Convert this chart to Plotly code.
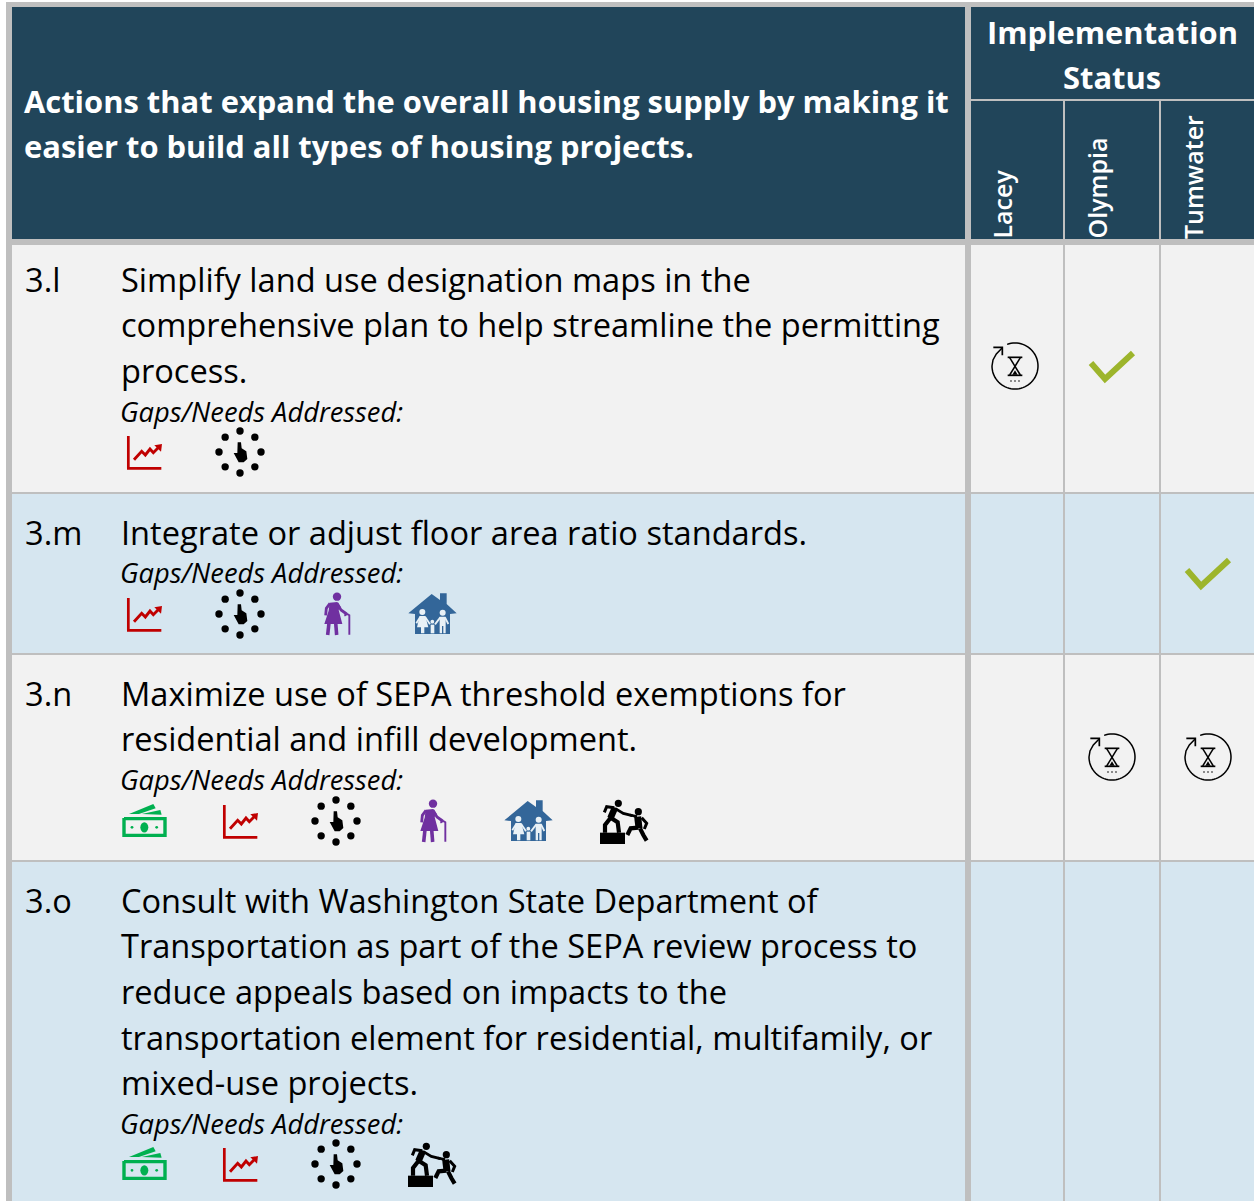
import math
import plotly.graph_objects as go

# ---------- content ----------
HEADER_TITLE = ["Actions that expand the overall housing supply by making it",
                "easier to build all types of housing projects."]
STATUS_TITLE = ["Implementation", "Status"]
CITIES = ["Lacey", "Olympia", "Tumwater"]
ACTION_IDS = ["3.l", "3.m", "3.n", "3.o"]
ACTION_LINES = [
    ["Simplify land use designation maps in the",
     "comprehensive plan to help streamline the permitting",
     "process."],
    ["Integrate or adjust floor area ratio standards."],
    ["Maximize use of SEPA threshold exemptions for",
     "residential and infill development."],
    ["Consult with Washington State Department of",
     "Transportation as part of the SEPA review process to",
     "reduce appeals based on impacts to the",
     "transportation element for residential, multifamily, or",
     "mixed-use projects."],
]
GAPS_LABEL = "Gaps/Needs Addressed:"
ACTION_GAPS = [
    ["chart", "dots"],
    ["chart", "dots", "elder", "family"],
    ["money", "chart", "dots", "elder", "family", "help"],
    ["money", "chart", "dots", "help"],
]
STATUS_LACEY = ["progress", None, None, None]
STATUS_OLYMPIA = ["done", None, "progress", None]
STATUS_TUMWATER = [None, "done", "progress", None]

# ---------- layout geometry ----------
W, H = 1254, 1201
NAVY, GREY = "#21455A", "#BFBFBF"
ROW_BG = ["#F2F2F2", "#D6E6F0", "#F2F2F2", "#D6E6F0"]
ROW_TOP = [245, 494, 655, 862]
ROW_BOTTOM = [492, 653, 860, 1201]
LINE_Y = [[279, 324, 370], [532], [693, 738], [900, 945, 991, 1037, 1082]]
GAPS_Y = [411, 572, 779, 1123]
ICON_Y = [453, 615, 822, 1165]
ICON_X0, ICON_STEP = 145, 96
CITY_X = [1015, 1112, 1208]
STATUS_Y = [366, 573, 757, 0]
FONT = "Open Sans"
BODY_SIZE = 32.6
HEAD_SIZE = 30.9
GAPS_SIZE = 27.3

shapes = []
annotations = []


def rect(x0, y0, x1, y1, color):
    shapes.append(dict(type="rect", xref="x", yref="y", x0=x0, y0=y0, x1=x1, y1=y1,
                       fillcolor=color, line=dict(width=0), layer="below"))


def text(x, y, s, size, color="#000000", anchor="left", weight=None, italic=False,
         angle=0, yanchor="middle"):
    annotations.append(dict(
        x=x, y=y, xref="x", yref="y", text=s, showarrow=False, xanchor=anchor,
        yanchor=yanchor, textangle=angle, borderpad=0,
        font=dict(family=FONT, size=size, color=color, weight=weight,
                  style="italic" if italic else "normal")))


def fill(pts, color):
    d = "M" + " L".join(f"{x:.2f},{y:.2f}" for x, y in pts) + " Z"
    shapes.append(dict(type="path", xref="x", yref="y", path=d,
                       fillcolor=color, line=dict(width=0)))


def stroke(pts, color, width):
    d = "M" + " L".join(f"{x:.2f},{y:.2f}" for x, y in pts)
    shapes.append(dict(type="path", xref="x", yref="y", path=d,
                       line=dict(color=color, width=width)))


def disc(x, y, rx, color, ry=None):
    ry = rx if ry is None else ry
    shapes.append(dict(type="circle", xref="x", yref="y", x0=x - rx, x1=x + rx,
                       y0=y - ry, y1=y + ry, fillcolor=color, line=dict(width=0)))


def mapper(cx, cy, ou, ov):
    def P(pts):
        return [(cx + (u - ou) / 3, cy + (v - ov) / 3) for u, v in pts]
    return P


def icon_money(cx, cy, bg):
    c = "#00B050"
    P = mapper(cx, cy, 90, 81)
    stroke(P([(27, 71), (150, 71), (150, 121), (27, 121), (27, 69)]), c, 3.4)
    fill(P([(42, 57), (115, 27), (122, 40), (72, 57)]), c)
    fill(P([(80, 57), (136, 45), (140, 59)]), c)
    (x, y), = P([(88, 97)])
    disc(x, y, 4, c, 5.2)
    for u in (51, 125):
        (x, y), = P([(u, 97)])
        disc(x, y, 1.4, c)


def icon_chart(cx, cy, bg):
    c = "#C00000"
    P = mapper(cx, cy, 135, 159)
    stroke(P([(85, 108), (85, 205), (184, 205)]), c, 2.7)
    stroke(P([(102, 179), (125, 154), (136, 165), (150, 147), (160, 158), (176, 142)]), c, 2.9)
    fill(P([(163, 136), (186, 132), (183, 155)]), c)


def icon_dots(cx, cy, bg):
    cx -= 1
    for k in range(8):
        a = k * math.pi / 4
        disc(cx + 21 * math.cos(a), cy - 1 + 21 * math.sin(a), 3.7, "#000000")
    P = mapper(cx, cy - 1, 421, 157)
    fill(P([(414, 128), (424, 128), (426, 146), (440, 155), (443, 178), (432, 188),
            (417, 188), (402, 160), (413, 160)]), "#000000")


def icon_elder(cx, cy, bg):
    c = "#7030A0"
    P = mapper(cx, cy, 66, 75)
    (x, y), = P([(66, 20)])
    disc(x, y, 4.2, c)
    fill(P([(44, 38), (67, 36), (77, 50), (71, 60), (82, 102), (28, 102), (41, 62)]), c)
    stroke(P([(42, 98), (38, 135)]), c, 3.6)
    stroke(P([(62, 98), (65, 135)]), c, 3.6)
    stroke(P([(45, 40), (34, 55), (32, 76)]), c, 2.8)
    stroke(P([(66, 40), (78, 60), (95, 72)]), c, 2.8)
    stroke(P([(88, 77), (97, 72), (103, 76), (103, 134)]), c, 1.9)


def icon_family(cx, cy, bg):
    c, w = "#336699", "#E9F1F6"
    P = mapper(cx, cy, 84, 75)
    fill(P([(80, 12), (105, 30), (105, 10), (125, 10), (125, 42), (155, 70), (135, 72),
            (135, 132), (30, 132), (30, 72), (10, 70)]), c)
    for u, v, r in ((52, 66, 3), (82, 95, 1.9), (113, 68, 3)):
        (x, y), = P([(u, v)])
        disc(x, y, r, w)
    fill(P([(44, 78), (61, 78), (70, 112), (58, 112), (58, 130), (48, 130), (48, 112), (36, 112)]), w)
    fill(P([(104, 80), (122, 80), (122, 130), (115, 130), (115, 108), (111, 108), (111, 130), (104, 130)]), w)
    fill(P([(77, 104), (88, 104), (88, 130), (77, 130)]), w)
    stroke(P([(46, 80), (34, 100)]), w, 1.8)
    stroke(P([(60, 80), (75, 103)]), w, 1.8)
    stroke(P([(106, 82), (90, 103)]), w, 1.8)
    stroke(P([(120, 82), (130, 102)]), w, 1.8)


def icon_help(cx, cy, bg):
    c = "#000000"
    P = mapper(cx, cy, 90, 81)
    fill(P([(15, 113), (90, 113), (90, 147), (15, 147)]), c)
    for u, v in ((70, 25), (130, 50)):
        (x, y), = P([(u, v)])
        disc(x, y, 3.6, c)
    stroke(P([(60, 38), (46, 70)]), c, 6.5)
    stroke(P([(58, 38), (35, 35), (28, 52)]), c, 3)
    stroke(P([(47, 68), (30, 90), (30, 113)]), c, 4.2)
    stroke(P([(47, 68), (68, 82), (72, 113)]), c, 4.2)
    stroke(P([(60, 40), (85, 55), (112, 62)]), c, 2.8)
    stroke(P([(128, 65), (132, 100)]), c, 7)
    stroke(P([(126, 65), (105, 60)]), c, 2.8)
    stroke(P([(140, 68), (155, 85), (148, 102)]), c, 3)
    stroke(P([(130, 98), (107, 100), (97, 120)]), c, 4.2)
    stroke(P([(135, 100), (145, 120), (155, 137)]), c, 4.2)


def icon_progress(cx, cy):
    c = "#000000"
    P = mapper(cx, cy, 90, 84)
    ring = [(90 + 69 * math.cos(math.radians(a)), 84 + 69 * math.sin(math.radians(a)))
            for a in range(-110, 185, 5)]
    stroke(P(ring), c, 1.5)
    stroke(P([(21, 84), (24, 66), (34, 48), (52, 29)]), c, 1.5)
    stroke(P([(25, 28), (52, 28), (52, 52)]), c, 1.7)
    stroke(P([(68, 58), (112, 58)]), c, 1.7)
    stroke(P([(68, 112), (112, 112)]), c, 1.7)
    stroke(P([(74, 59), (106, 111)]), c, 1.5)
    stroke(P([(106, 59), (74, 111)]), c, 1.5)
    fill(P([(82, 110), (98, 110), (90, 97)]), c)
    for u in (78, 90, 102):
        (x, y), = P([(u, 129)])
        disc(x, y, 0.8, c)


def icon_done(cx, cy):
    stroke([(cx - 21, cy - 3), (cx - 7, cy + 13), (cx + 21, cy - 13)], "#9DB52C", 6)


GAP_DRAW = dict(money=icon_money, chart=icon_chart, dots=icon_dots,
                elder=icon_elder, family=icon_family, help=icon_help)
STATUS_DRAW = dict(progress=icon_progress, done=icon_done)

# ---------- frame ----------
rect(6, 2, W, H, GREY)
rect(12, 7, 965, 239, NAVY)
rect(971, 7, W, 99, NAVY)
for x0, x1 in ((971, 1063), (1065, 1159), (1161, W)):
    rect(x0, 101, x1, 239, NAVY)
for top, bottom, bg in zip(ROW_TOP, ROW_BOTTOM, ROW_BG):
    rect(12, top, 965, bottom, bg)
    for x0, x1 in ((971, 1063), (1065, 1159), (1161, W)):
        rect(x0, top, x1, bottom, bg)

# ---------- header ----------
for s, y in zip(HEADER_TITLE, (101, 146)):
    text(23, y, s, HEAD_SIZE, "#FFFFFF", weight=700)
for s, y in zip(STATUS_TITLE, (32, 77)):
    text(1112, y, s, HEAD_SIZE, "#FFFFFF", anchor="center", weight=700)
for city, x in zip(CITIES, (1001, 1096, 1193)):
    text(x, 240, city, 25, "#FFFFFF", anchor="center", weight=600, angle=-90, yanchor="bottom")

# ---------- rows ----------
for i, rid in enumerate(ACTION_IDS):
    text(23.5, LINE_Y[i][0], rid, BODY_SIZE)
    for s, y in zip(ACTION_LINES[i], LINE_Y[i]):
        text(119.5, y, s, BODY_SIZE)
    text(119, GAPS_Y[i], GAPS_LABEL, GAPS_SIZE, italic=True)
    for k, g in enumerate(ACTION_GAPS[i]):
        GAP_DRAW[g](ICON_X0 + k * ICON_STEP, ICON_Y[i], ROW_BG[i])
    for col, status in zip(CITY_X, (STATUS_LACEY[i], STATUS_OLYMPIA[i], STATUS_TUMWATER[i])):
        if status:
            STATUS_DRAW[status](col, STATUS_Y[i])

fig = go.Figure()
fig.update_layout(
    width=W, height=H, margin=dict(l=0, r=0, t=0, b=0),
    paper_bgcolor="#FFFFFF", plot_bgcolor="#FFFFFF", showlegend=False,
    xaxis=dict(range=[0, W], visible=False, fixedrange=True),
    yaxis=dict(range=[H, 0], visible=False, fixedrange=True),
    shapes=shapes, annotations=annotations,
)
fig.write_html("out.html", config=dict(displayModeBar=False),
               post_script="document.body.style.margin='0';document.body.style.overflow='hidden';")
